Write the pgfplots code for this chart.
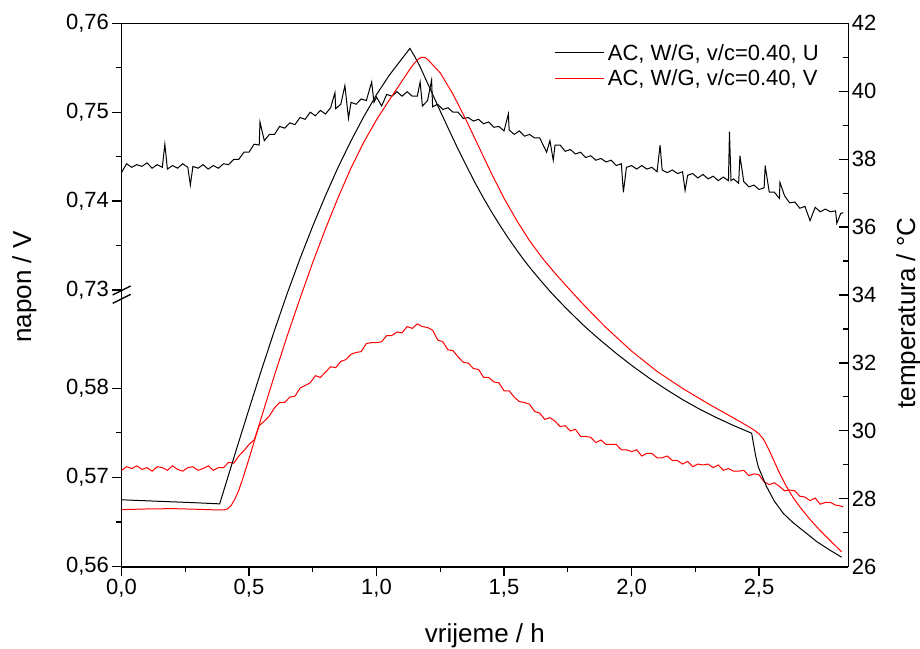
\documentclass[border=0pt]{standalone}
\usepackage{fontspec}
\setmainfont{Liberation Sans}
\usepackage{pgfplots}
\usepackage{pgfplotstable}
\pgfplotsset{compat=1.18}

\pgfplotstableread{
h T
0.00 27.97
0.10 27.94
0.20 27.91
0.30 27.88
0.385 27.85
0.45 29.44
0.50 30.64
0.55 31.82
0.60 32.96
0.65 34.05
0.70 35.07
0.75 36.03
0.80 36.93
0.85 37.77
0.90 38.54
0.95 39.25
1.00 39.90
1.05 40.47
1.10 40.96
1.131 41.26
1.150 41.02
1.171 40.72
1.195 40.32
1.223 39.86
1.255 39.33
1.288 38.80
1.320 38.29
1.354 37.78
1.386 37.31
1.419 36.86
1.450 36.46
1.484 36.05
1.517 35.67
1.550 35.32
1.580 35.01
1.615 34.68
1.650 34.37
1.680 34.11
1.710 33.87
1.746 33.59
1.780 33.34
1.810 33.12
1.850 32.85
1.876 32.68
1.940 32.28
2.007 31.89
2.070 31.55
2.138 31.21
2.200 30.92
2.269 30.63
2.330 30.40
2.399 30.16
2.440 30.03
2.471 29.93
2.478 29.63
2.487 29.25
2.497 28.94
2.530 28.35
2.560 27.93
2.595 27.57
2.630 27.32
2.661 27.13
2.695 26.93
2.726 26.74
2.775 26.50
2.824 26.28
}\tempU

\pgfplotstableread{
h T
0.00 27.68
0.10 27.70
0.20 27.71
0.30 27.69
0.38 27.67
0.40 27.67
0.415 27.70
0.43 27.80
0.445 28.00
0.46 28.25
0.478 28.65
0.50 29.18
0.55 30.43
0.60 31.64
0.65 32.80
0.70 33.90
0.75 34.96
0.80 35.95
0.85 36.88
0.90 37.74
0.95 38.50
1.00 39.16
1.05 39.74
1.10 40.30
1.13 40.64
1.15 40.84
1.165 40.95
1.177 41.00
1.19 40.99
1.20 40.94
1.25 40.54
1.30 39.91
1.35 39.17
1.40 38.38
1.45 37.59
1.50 36.85
1.55 36.19
1.60 35.60
1.65 35.09
1.70 34.64
1.75 34.22
1.80 33.81
1.85 33.42
1.90 33.04
2.00 32.35
2.10 31.75
2.20 31.25
2.30 30.80
2.40 30.38
2.46 30.12
2.485 30.00
2.50 29.91
2.517 29.76
2.535 29.50
2.556 29.16
2.58 28.76
2.609 28.34
2.635 28.02
2.661 27.75
2.70 27.39
2.739 27.07
2.78 26.76
2.824 26.44
}\tempV

\pgfplotstableread{
h U
0.00 0.7432
0.02 0.7442
0.04 0.7438
0.06 0.7441
0.08 0.7439
0.10 0.7443
0.12 0.7437
0.14 0.7441
0.16 0.7438
0.17 0.7464
0.18 0.7436
0.20 0.7440
0.22 0.7437
0.24 0.7442
0.26 0.7438
0.27 0.7418
0.28 0.7439
0.30 0.7437
0.32 0.7441
0.34 0.7436
0.36 0.7440
0.38 0.7437
0.40 0.7442
0.42 0.7441
0.44 0.7447
0.46 0.7447
0.48 0.7455
0.50 0.7455
0.52 0.7464
0.54 0.7463
0.543 0.7489
0.56 0.7468
0.58 0.7475
0.60 0.7475
0.62 0.7484
0.64 0.7482
0.66 0.7488
0.68 0.7486
0.70 0.7494
0.72 0.7492
0.74 0.7500
0.76 0.7496
0.78 0.7502
0.80 0.7498
0.82 0.7505
0.837 0.7522
0.84 0.7504
0.86 0.7509
0.876 0.7530
0.89 0.7493
0.90 0.7511
0.92 0.7509
0.94 0.7515
0.96 0.7513
0.981 0.7534
0.99 0.7511
1.00 0.7517
1.02 0.7507
1.04 0.7520
1.06 0.7518
1.08 0.7523
1.10 0.7518
1.12 0.7523
1.14 0.7518
1.16 0.7518
1.171 0.7534
1.18 0.7507
1.20 0.7513
1.216 0.7536
1.22 0.7506
1.24 0.7509
1.26 0.7503
1.28 0.7505
1.30 0.7500
1.32 0.7500
1.34 0.7493
1.36 0.7494
1.38 0.7490
1.40 0.7492
1.42 0.7487
1.44 0.7489
1.46 0.7483
1.48 0.7484
1.50 0.7479
1.517 0.7498
1.52 0.7480
1.54 0.7475
1.56 0.7479
1.58 0.7473
1.60 0.7475
1.62 0.7471
1.64 0.7471
1.667 0.7455
1.68 0.7468
1.693 0.7446
1.70 0.7463
1.72 0.7463
1.74 0.7456
1.76 0.7458
1.78 0.7453
1.80 0.7455
1.82 0.7449
1.84 0.7451
1.86 0.7446
1.88 0.7448
1.90 0.7444
1.92 0.7446
1.94 0.7440
1.96 0.7442
1.968 0.7410
1.98 0.7438
2.00 0.7440
2.02 0.7436
2.04 0.7440
2.06 0.7436
2.08 0.7438
2.10 0.7433
2.112 0.7463
2.12 0.7435
2.14 0.7432
2.16 0.7435
2.18 0.7431
2.20 0.7433
2.21 0.7412
2.22 0.7429
2.24 0.7431
2.26 0.7426
2.28 0.7430
2.30 0.7425
2.32 0.7428
2.34 0.7423
2.36 0.7427
2.38 0.7423
2.384 0.7478
2.39 0.7423
2.40 0.7425
2.42 0.7420
2.425 0.7451
2.44 0.7422
2.46 0.7416
2.48 0.7418
2.50 0.7413
2.52 0.7415
2.524 0.7440
2.54 0.7410
2.56 0.7410
2.58 0.7403
2.582 0.7421
2.60 0.7406
2.62 0.7398
2.64 0.7399
2.66 0.7392
2.68 0.7394
2.70 0.7378
2.72 0.7393
2.74 0.7388
2.76 0.7391
2.78 0.7388
2.80 0.7389
2.805 0.7375
2.82 0.7386
2.83 0.7387
}\voltU

\pgfplotstableread{
h V
0.00 0.5708
0.02 0.5712
0.04 0.5710
0.06 0.5713
0.08 0.5709
0.10 0.5711
0.12 0.5707
0.14 0.5712
0.16 0.5711
0.18 0.5708
0.20 0.5713
0.22 0.5709
0.24 0.5707
0.26 0.5711
0.28 0.5712
0.30 0.5708
0.32 0.5710
0.34 0.5713
0.36 0.5708
0.38 0.5711
0.40 0.5711
0.42 0.5717
0.44 0.5716
0.46 0.5724
0.48 0.5730
0.50 0.5737
0.52 0.5742
0.54 0.5758
0.56 0.5763
0.58 0.5769
0.60 0.5778
0.62 0.5784
0.64 0.5784
0.66 0.5790
0.68 0.5791
0.70 0.5800
0.72 0.5803
0.74 0.5806
0.76 0.5814
0.78 0.5812
0.80 0.5818
0.82 0.5824
0.84 0.5823
0.86 0.5830
0.88 0.5832
0.90 0.5838
0.92 0.5840
0.94 0.5841
0.96 0.5850
0.98 0.5851
1.00 0.5851
1.02 0.5852
1.04 0.5859
1.06 0.5859
1.08 0.5863
1.10 0.5862
1.12 0.5869
1.14 0.5867
1.16 0.5872
1.18 0.5869
1.20 0.5868
1.22 0.5865
1.24 0.5854
1.26 0.5852
1.28 0.5843
1.30 0.5842
1.32 0.5835
1.34 0.5829
1.36 0.5828
1.38 0.5822
1.40 0.5821
1.42 0.5812
1.44 0.5812
1.46 0.5807
1.48 0.5806
1.50 0.5797
1.52 0.5797
1.54 0.5790
1.56 0.5785
1.58 0.5784
1.60 0.5782
1.62 0.5774
1.64 0.5772
1.66 0.5765
1.68 0.5767
1.70 0.5763
1.72 0.5757
1.74 0.5758
1.76 0.5752
1.78 0.5754
1.80 0.5746
1.82 0.5746
1.84 0.5745
1.86 0.5739
1.88 0.5742
1.90 0.5737
1.92 0.5737
1.94 0.5737
1.96 0.5731
1.98 0.5731
2.00 0.5729
2.02 0.5731
2.04 0.5724
2.06 0.5727
2.08 0.5727
2.10 0.5722
2.12 0.5722
2.14 0.5724
2.16 0.5719
2.18 0.5719
2.20 0.5715
2.22 0.5718
2.24 0.5712
2.26 0.5715
2.28 0.5714
2.30 0.5715
2.32 0.5711
2.34 0.5714
2.36 0.5708
2.38 0.5710
2.40 0.5707
2.42 0.5707
2.44 0.5708
2.46 0.5702
2.48 0.5704
2.50 0.5703
2.52 0.5695
2.54 0.5692
2.56 0.5694
2.58 0.5690
2.60 0.5685
2.62 0.5686
2.64 0.5685
2.66 0.5679
2.68 0.5678
2.70 0.5674
2.72 0.5677
2.74 0.5670
2.76 0.5672
2.78 0.5672
2.80 0.5669
2.82 0.5668
2.83 0.5667
}\voltV

\begin{document}
\begin{tikzpicture}
\pgfplotsset{
  base/.style={
    scale only axis, width=726.8pt, xmin=0, xmax=2.85,
    tick label style={font=\fontsize{22}{26}\selectfont},
    label style={font=\fontsize{26}{30}\selectfont},
    /pgf/number format/assume math mode=true,
    /pgf/number format/use comma,
    /pgf/number format/1000 sep={},
    major tick length=9pt, minor tick length=5pt,
    every tick/.style={black, line width=1.2pt},
    axis line style={line width=1.6pt},
  }
}
% lower left axis (V)
\begin{axis}[base, name=lower,
  height=276.7pt, ymin=0.56, ymax=0.591,
  axis x line*=bottom, axis y line*=left, tick align=outside,
  xtick={0,0.5,1,1.5,2,2.5}, minor x tick num=1,
  ytick={0.56,0.57,0.58}, minor y tick num=1,
  xticklabel style={/pgf/number format/.cd, fixed, fixed zerofill, precision=1},
  yticklabel style={/pgf/number format/.cd, fixed, fixed zerofill, precision=2},
  xlabel={vrijeme / h},
  xlabel style={at={(axis description cs:0.5,-0.2757)}, anchor=base},
  ylabel={napon / V},
  ylabel style={at={(axis description cs:-0.1245,1.011)}, anchor=base},
]
\addplot[red, line width=1pt, no marks] table[x=h, y=V] {\voltV};
\end{axis}
% upper left axis (U)
\begin{axis}[base, name=upper, at={(lower.north west)}, anchor=south west,
  height=266.7pt, ymin=0.73, ymax=0.76,
  hide x axis, axis y line*=left, tick align=outside,
  ytick={0.73,0.74,0.75,0.76}, minor y tick num=1,
  yticklabel style={/pgf/number format/.cd, fixed, fixed zerofill, precision=2},
]
\addplot[black, line width=1pt, no marks] table[x=h, y=U] {\voltU};
\end{axis}
% right axis (temperature)
\begin{axis}[base, name=right, at={(lower.south west)}, anchor=south west,
  height=543.4pt, ymin=26, ymax=42,
  axis x line*=top, axis y line*=right, tick align=inside,
  x axis line style={line width=1pt},
  xtick=\empty,
  ytick={26,28,...,42}, minor y tick num=1,
  ylabel={temperatura / °C},
  ylabel style={at={(axis description cs:1.0918,0.4669)}, anchor=base},
  legend cell align=left,
  legend image code/.code={\draw[#1] (0pt,0pt) -- (49pt,0pt);},
  legend style={at={(axis description cs:0.9638,0.9674)}, anchor=north east,
    draw=none, fill=none, inner sep=0pt, row sep=2pt,
    font=\fontsize{22}{26}\selectfont, nodes={inner sep=3pt}},
]
\addplot[black, line width=1pt, no marks] table[x=h, y=T] {\tempU};
\addlegendentry{AC, W/G, v/c=0.40, U}
\addplot[red, line width=1pt, no marks] table[x=h, y=T] {\tempV};
\addlegendentry{AC, W/G, v/c=0.40, V}
\end{axis}
% axis break marks
\draw[line width=1.3pt] ([shift={(-8.8pt,-5pt)}]lower.north west) -- ++(18pt,9pt);
\draw[line width=1.3pt] ([shift={(-8.8pt,-13.3pt)}]lower.north west) -- ++(18pt,9pt);
\pgfresetboundingbox
\useasboundingbox ([shift={(-121.5pt,-81.3pt)}]lower.south west) rectangle ++(920pt,648pt);
\end{tikzpicture}
\end{document}
